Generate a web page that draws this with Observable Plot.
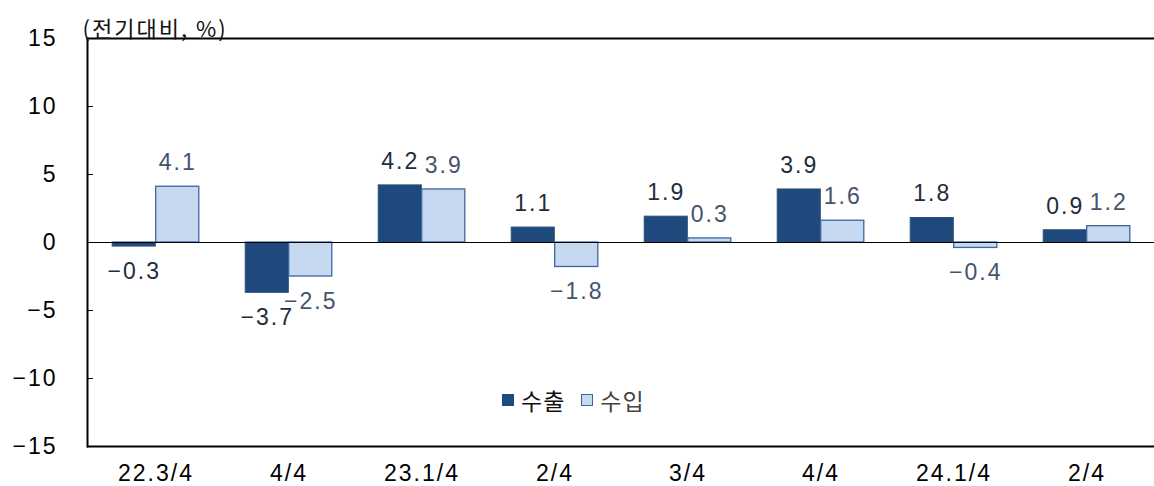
<!DOCTYPE html>
<html><head><meta charset="utf-8">
<script src="https://cdn.jsdelivr.net/npm/d3@7"></script>
<script src="https://cdn.jsdelivr.net/npm/@observablehq/plot@0.6"></script>
<style>
body{margin:0;background:#fff;}
#wrap{position:relative;width:1154px;height:486px;}
#wrap svg text{letter-spacing:2px;}
#legend{position:absolute;left:502px;top:383px;font-family:"Noto Sans CJK KR",sans-serif;font-size:23px;display:flex;align-items:center;color:#111;letter-spacing:1px;}
#legend span.sw{display:inline-block;width:12px;height:12px;box-sizing:border-box;}
</style></head>
<body><div id="wrap"><div id="legend"></div></div>
<script>
const categories = ["22.3/4","4/4","23.1/4","2/4 ","3/4","4/4 ","24.1/4","2/4  "];
const tickLabels = ["22.3/4","4/4","23.1/4","2/4","3/4","4/4","24.1/4","2/4"];
const exports_ = [-0.3,-3.7,4.2,1.1,1.9,3.9,1.8,0.9];
const imports_ = [4.1,-2.5,3.9,-1.8,0.3,1.6,-0.4,1.2];
const seriesNames = ["수출","수입"];
const yTicks = [-15,-10,-5,0,5,10,15];

const rows = [];
categories.forEach((c,i)=>{
  rows.push({cat:c, series:seriesNames[0], value:exports_[i]});
  rows.push({cat:c, series:seriesNames[1], value:imports_[i]});
});
const exp = rows.filter(d=>d.series===seriesNames[0]);
const imp = rows.filter(d=>d.series===seriesNames[1]);

const W=1154,H=486;
const band=(W-87-0)/categories.length;
const barW=band*0.326;
const outer=(band-2*barW)/2;
const fmt=v=> (v<0?"\u2212":"")+Math.abs(v).toFixed(1);
const numFont='"Liberation Sans",Arial,sans-serif';
const FS=23;

const chart = Plot.plot({
  width:W, height:H,
  marginLeft:87, marginRight:0, marginTop:38, marginBottom:40,
  style:{fontFamily:numFont, fontSize:FS+"px", background:"transparent"},
  x:{domain:categories, padding:0, label:null},
  y:{domain:[-15,15], label:null},
  marks:[
    Plot.barY(exp,{x:"cat", y:"value", fill:"#1f497d", stroke:"#2b5577", strokeWidth:1, insetLeft:outer, insetRight:outer+barW}),
    Plot.barY(imp,{x:"cat", y:"value", fill:"#c6d9f1", stroke:"#3a67a0", strokeWidth:1.3, insetLeft:outer+barW, insetRight:outer}),
    Plot.ruleY([0],{stroke:"#000", strokeWidth:1.2}),
    Plot.ruleY([15,-15],{stroke:"#000", strokeWidth:2}),
    Plot.frame({anchor:"left", stroke:"#000", strokeWidth:2}),
    Plot.text(exp.filter(d=>d.value>=0),{x:"cat", y:"value", text:d=>fmt(d.value), dx:-barW/2, dy:-24, fill:"#222d3b", fontSize:FS}),
    Plot.text(exp.filter(d=>d.value<0),{x:"cat", y:"value", text:d=>fmt(d.value), dx:-barW/2, dy:25, fill:"#222d3b", fontSize:FS}),
    Plot.text(imp.filter(d=>d.value>=0),{x:"cat", y:"value", text:d=>fmt(d.value), dx:barW/2, dy:-24, fill:"#44546a", fontSize:FS}),
    Plot.text(imp.filter(d=>d.value<0),{x:"cat", y:"value", text:d=>fmt(d.value), dx:barW/2, dy:25, fill:"#44546a", fontSize:FS}),
    Plot.axisY({ticks:yTicks, tickSize:-6, tickPadding:36, tickFormat:v=>(v<0?"\u2212":"")+Math.abs(v), fontSize:FS, fill:"#000", stroke:"#000"}),
    Plot.axisX({tickSize:0, tickPadding:18, fontSize:FS, fill:"#000", tickFormat:d=>tickLabels[categories.indexOf(d)]}),
    Plot.text(["(전기대비, %)"],{frameAnchor:"top-left", dx:-5, dy:-17, fontFamily:'"Noto Sans CJK KR",sans-serif', fontSize:22, textAnchor:"start", fill:"#111"})
  ]
});
document.getElementById("wrap").prepend(chart);
const lg=document.getElementById("legend");
lg.innerHTML=`<span class="sw" style="background:#1f497d;margin-right:7px"></span><span>${seriesNames[0]}</span><span class="sw" style="background:#c6d9f1;border:1.5px solid #3a67a0;margin-left:16px;margin-right:7px"></span><span style="color:#444">${seriesNames[1]}</span>`;
</script></body></html>
